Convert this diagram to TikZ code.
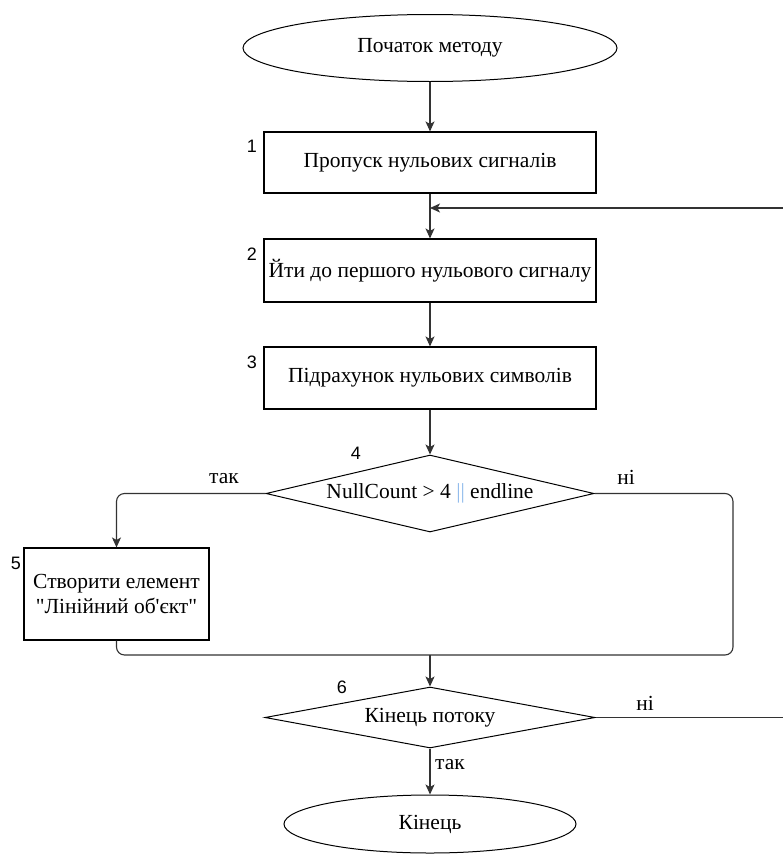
\documentclass[tikz,border=0pt]{standalone}
\usepackage{fontspec}
\setmainfont{Liberation Serif}[Ligatures=TeXOff]
\newfontfamily\numfont{Liberation Sans}
\usetikzlibrary{shapes.geometric,arrows.meta}
\definecolor{edgegray}{gray}{0.2}
\definecolor{hlblue}{rgb}{0.55,0.72,0.92}
\begin{document}
\begin{tikzpicture}[x=1pt,y=-1pt,
  every node/.style={font=\fontsize{21.5}{25}\selectfont},
  terminal/.style={draw, ellipse, line width=1pt, inner sep=0pt},
  procbox/.style={draw, rectangle, line width=1.1pt, inner sep=0pt},
  decision/.style={draw, diamond, line width=1pt, inner sep=0pt},
  conn/.style={draw=edgegray, line width=1.1pt},
  arr/.style={conn, -{Stealth[length=10pt,width=9pt,inset=2.5pt]}},
  steplbl/.style={font=\numfont\fontsize{18}{20}\selectfont},
  branchlbl/.style={font=\fontsize{21.5}{25}\selectfont}]
\useasboundingbox (0,0) rectangle (783,854);

% main column of blocks
\node[terminal, minimum width=374pt, minimum height=67pt] (start) at (430,48) {Початок методу};
\node[procbox, minimum width=332pt, minimum height=61pt] (b1) at (430,162.5) {Пропуск нульових сигналів};
\node[procbox, minimum width=332pt, minimum height=63pt] (b2) at (430,270.5) {Йти до першого нульового сигналу};
\node[procbox, minimum width=332pt, minimum height=62pt] (b3) at (430,378) {Підрахунок нульових символів};
\node[decision, minimum width=328pt, minimum height=77pt] (d4) at (430,493.5) {};
\node (d4t) at (d4.center) {NullCount > 4 {\color{hlblue}||} endline};
\node[procbox, minimum width=185pt, minimum height=92pt, align=center] (b5) at (116.5,594) {Створити елемент\\"Лінійний об'єкт"};
\node[decision, minimum width=330pt, minimum height=61pt] (d6) at (430,717.5) {};
\node (d6t) at (d6.center) {Кінець потоку};
\node[terminal, minimum width=292pt, minimum height=58pt] (end) at (430,824) {Кінець};

% step numbers
\node[steplbl] (n1) at (252,146) {1};
\node[steplbl] (n2) at (252,254) {2};
\node[steplbl] (n3) at (252,362) {3};
\node[steplbl] (n4) at (356,453) {4};
\node[steplbl] (n5) at (16,563) {5};
\node[steplbl] (n6) at (342,687) {6};

% junction points
\coordinate (jn) at (430,208);
\coordinate (loopr) at (790,208);
\coordinate (mr) at (733,655);
\coordinate (mc) at (430,655);

% connectors
\draw[arr] (start) -- (b1);
\draw[arr] (b1) -- (b2);
\draw[arr] (b2) -- (b3);
\draw[arr] (b3) -- (d4);
\draw[arr, rounded corners=8pt] (d4.west) -| (b5.north);
\draw[conn, rounded corners=8pt] (d4.east) -| (mr) -| (b5.south);
\draw[arr] (mc) -- (d6.north);
\draw[arr] (d6) -- (end);
\draw[arr] (d6.east) -| (loopr) -- (jn);

% branch labels
\node[branchlbl] (l1) at (224,479) {так};
\node[branchlbl] (l2) at (626,477) {ні};
\node[branchlbl] (l3) at (645,703) {ні};
\node[branchlbl] (l4) at (450,765) {так};
\end{tikzpicture}
\end{document}
